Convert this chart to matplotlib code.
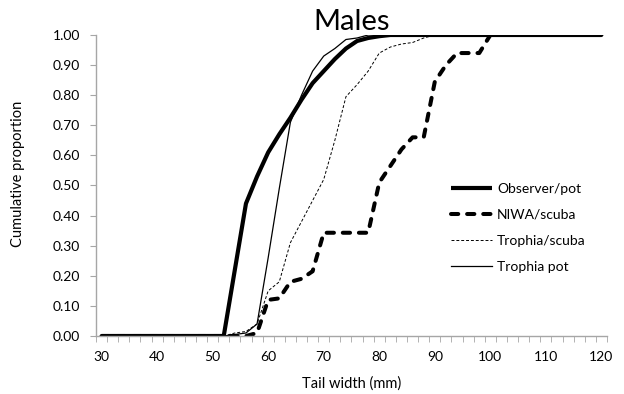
import matplotlib.pyplot as plt
from matplotlib.ticker import FixedLocator, FormatStrFormatter

plt.rcParams['font.family'] = ['Lato', 'DejaVu Sans']

# tail width classes (mm), 2 mm bins
tail_width = list(range(30, 122, 2))

observer_pot = [0, 0, 0, 0, 0, 0, 0, 0, 0, 0, 0, 0,
                0.22, 0.44, 0.53, 0.61, 0.67, 0.725, 0.785, 0.84, 0.88, 0.92, 0.955, 0.98, 0.99, 0.996,
                1, 1, 1, 1, 1, 1, 1, 1, 1, 1, 1, 1, 1, 1, 1, 1, 1, 1, 1, 1]
niwa_scuba = [0, 0, 0, 0, 0, 0, 0, 0, 0, 0, 0, 0, 0, 0,
              0.01, 0.12, 0.125, 0.18, 0.19, 0.215, 0.343, 0.343, 0.343, 0.343, 0.343,
              0.51, 0.565, 0.62, 0.66, 0.66, 0.845, 0.90, 0.94, 0.94, 0.94,
              1, 1, 1, 1, 1, 1, 1, 1, 1, 1, 1]
trophia_scuba = [0, 0, 0, 0, 0, 0, 0, 0, 0, 0, 0, 0,
                 0.01, 0.015, 0.04, 0.15, 0.18, 0.31, 0.38, 0.45, 0.52, 0.65, 0.795, 0.835,
                 0.88, 0.94, 0.96, 0.97, 0.975, 0.99,
                 1, 1, 1, 1, 1, 1, 1, 1, 1, 1, 1, 1, 1, 1, 1, 1]
trophia_pot = [0, 0, 0, 0, 0, 0, 0, 0, 0, 0, 0, 0,
               0.005, 0.01, 0.04, 0.26, 0.49, 0.71, 0.80, 0.88, 0.93, 0.955, 0.985, 0.99,
               1, 1, 1, 1, 1, 1, 1, 1, 1, 1, 1, 1, 1, 1, 1, 1, 1, 1, 1, 1, 1, 1]

fig = plt.figure(figsize=(6.24, 3.94), dpi=100)
ax = fig.add_axes([0.1538, 0.1472, 0.819, 0.764])

ax.plot(tail_width, observer_pot, color='black', lw=3.0, solid_capstyle='butt', label='Observer/pot')
ax.plot(tail_width, niwa_scuba, color='black', lw=2.9, linestyle=(0, (1.8, 2.2)),
        dash_capstyle='round', label='NIWA/scuba')
ax.plot(tail_width, trophia_scuba, color='black', lw=0.7, linestyle=(0, (3, 2)), label='Trophia/scuba')
ax.plot(tail_width, trophia_pot, color='black', lw=0.9, label='Trophia pot')

ax.set_xlim(29, 121)
ax.set_ylim(0, 1)

axis_grey = '#a6a6a6'
for side in ['top', 'right']:
    ax.spines[side].set_visible(False)
for side in ['left', 'bottom']:
    ax.spines[side].set_color(axis_grey)
    ax.spines[side].set_linewidth(1.0)

ax.set_yticks([i / 10 for i in range(11)])
ax.yaxis.set_major_formatter(FormatStrFormatter('%.2f'))
ax.tick_params(axis='y', colors=axis_grey, labelcolor='black', length=4.3, pad=7, labelsize=10)

ax.set_xticks(list(range(30, 121, 10)))
ax.xaxis.set_minor_locator(FixedLocator(list(range(29, 122, 2))))
ax.tick_params(axis='x', which='major', length=0, labelsize=10, pad=11)
ax.tick_params(axis='x', which='minor', colors=axis_grey, length=4.3)

ax.set_title('Males', fontsize=21, pad=3)
ax.set_xlabel('Tail width (mm)', fontsize=10.5)
ax.set_ylabel('Cumulative proportion', fontsize=10.5)
ax.xaxis.set_label_coords(0.5, -0.133)
ax.yaxis.set_label_coords(-0.139, 0.54)

ax.legend(loc='upper left', bbox_to_anchor=(0.683, 0.527), frameon=False, fontsize=10,
          handlelength=3.0, handletextpad=0.35, labelspacing=1.0, borderaxespad=0)

fig.savefig('out.png', dpi=100)
